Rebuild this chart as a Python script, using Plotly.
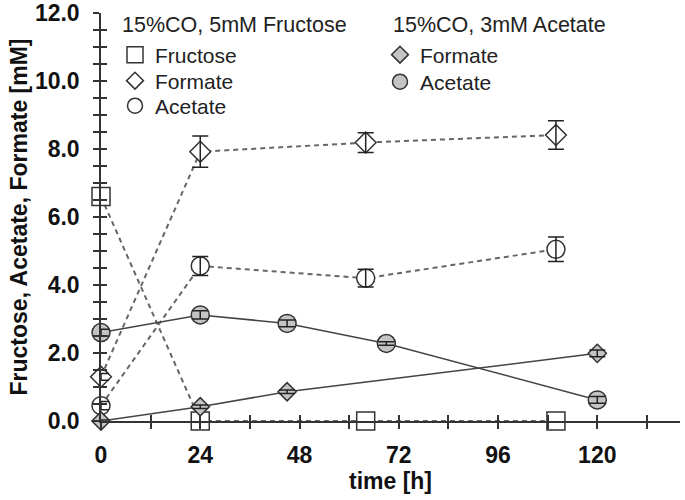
import plotly.graph_objects as go

# ---- data ----
t_fru = [0, 24, 64, 110]
fructose_fru = [6.6, 0.0, 0.0, 0.0]
formate_fru = [1.3, 7.92, 8.19, 8.41]
formate_fru_err = [0.1, 0.46, 0.29, 0.42]
acetate_fru = [0.45, 4.56, 4.20, 5.05]
acetate_fru_err = [0.12, 0.28, 0.26, 0.36]

t_ace_formate = [0, 24, 45, 120]
formate_ace = [0.0, 0.42, 0.86, 1.99]
formate_ace_err = [0.03, 0.05, 0.05, 0.1]
t_ace_acetate = [0, 24, 45, 69, 120]
acetate_ace = [2.60, 3.12, 2.87, 2.28, 0.62]
acetate_ace_err = [0.1, 0.12, 0.1, 0.05, 0.1]

legend1_title = "15%CO, 5mM Fructose"
legend2_title = "15%CO, 3mM Acetate"
x_ticks = [0, 24, 48, 72, 96, 120]
y_ticks = [0, 2, 4, 6, 8, 10, 12]

FONT = "Liberation Sans, Arial, sans-serif"
OUT = "#333333"
GRAY = "#c4c4c4"
DASH = "#666666"
SOLID = "#444444"

W, H = 685, 500
SL, SR, ST, SB = 101, 680, 13, 421          # plot area on screen
L, T = SL, ST
R, B = W - SR, H - SB
PW, PH = W - L - R, H - T - B


def px_x(p):
    return (p - L) / PW


def px_y(p):
    return (H - B - p) / PH


fig = go.Figure()


def add_series(x, y, err, symbol, size, fill, line_dash, line_color, line_w):
    fig.add_trace(go.Scatter(
        x=x, y=y, mode="lines+markers", showlegend=False, cliponaxis=False,
        line=dict(color=line_color, width=line_w, dash=line_dash),
        marker=dict(symbol=symbol, size=size, color=fill,
                    line=dict(color=OUT, width=1.5)),
        hoverinfo="skip"))
    if err is not None:
        fig.add_trace(go.Scatter(
            x=x, y=y, mode="markers", showlegend=False, cliponaxis=False,
            marker=dict(symbol=symbol, size=size, color="rgba(0,0,0,0)",
                        line=dict(color="rgba(0,0,0,0)", width=0)),
            error_y=dict(type="data", array=err, visible=True,
                         color="#222222", thickness=1.5, width=8),
            hoverinfo="skip"))


add_series(t_fru, fructose_fru, None, "square", 18, "white", "5px,4px", DASH, 2)
add_series(t_fru, formate_fru, formate_fru_err, "diamond", 16, "white", "5px,4px", DASH, 2)
add_series(t_fru, acetate_fru, acetate_fru_err, "circle", 18, "white", "5px,4px", DASH, 2)
add_series(t_ace_formate, formate_ace, formate_ace_err, "diamond", 14, GRAY, "solid", SOLID, 1.5)
add_series(t_ace_acetate, acetate_ace, acetate_ace_err, "circle", 18, GRAY, "solid", SOLID, 1.5)

# legend-only entries, each in its own legend box
legend_items = [
    ("Fructose", "square", 16, "white", "legend", 134, 55),
    ("Formate", "diamond", 13, "white", "legend2", 134, 81),
    ("Acetate", "circle", 15, "white", "legend3", 134, 106),
    ("Formate", "diamond", 13, GRAY, "legend4", 399, 55),
    ("Acetate", "circle", 15, GRAY, "legend5", 399, 82),
]
legend_layout = {}
for name, symbol, size, fill, lg, sx, sy in legend_items:
    fig.add_trace(go.Scatter(
        x=[None], y=[None], mode="markers", name=name, legend=lg,
        marker=dict(symbol=symbol, size=size, color=fill,
                    line=dict(color=OUT, width=1.5))))
    legend_layout[lg] = dict(x=px_x(sx - 19), y=px_y(sy), xanchor="left", yanchor="middle",
                             bgcolor="rgba(0,0,0,0)", itemwidth=30,
                             font=dict(family=FONT, size=21, color="#222"))

tickfont = dict(family=FONT, size=23, color="#111111", weight="bold")
TK = dict(ticklen=6, tickwidth=1.5, tickcolor="#333")

fig.update_layout(
    width=W, height=H,
    margin=dict(l=L, r=R, t=T, b=B),
    paper_bgcolor="white", plot_bgcolor="white",
    font=dict(family=FONT, color="#222222"),
    xaxis=dict(range=[0, 140], tickvals=x_ticks, ticktext=[str(v) for v in x_ticks],
               ticks="outside", **TK, automargin=False, ticklabeloverflow="allow",
               minor=dict(dtick=12, tick0=0, ticks="outside", **TK),
               showline=True, linecolor="#333", linewidth=1.5, showgrid=False, zeroline=False,
               tickfont=tickfont, ticklabelstandoff=7,
               title=dict(text="time [h]", font=dict(family=FONT, size=23, weight="bold", color="#111"), standoff=3)),
    yaxis=dict(range=[0, 12], tickvals=y_ticks, ticktext=[f"{v:.1f}" for v in y_ticks],
               ticks="outside", **TK, automargin=False, ticklabeloverflow="allow",
               minor=dict(dtick=0.5, tick0=0, ticks="outside", **TK),
               showline=True, linecolor="#333", linewidth=1.5, showgrid=False, zeroline=False,
               tickfont=tickfont, ticklabelstandoff=9,
               title=dict(text="Fructose, Acetate, Formate [mM]", font=dict(family=FONT, size=23, weight="bold", color="#111"), standoff=1)),
    xaxis2=dict(range=[0, 140], overlaying="x", anchor="y", tickvals=x_ticks, showticklabels=False,
                ticks="inside", **TK, automargin=False,
                minor=dict(dtick=12, tick0=0, ticks="inside", **TK),
                showline=False, showgrid=False, zeroline=False),
    yaxis2=dict(range=[0, 12], overlaying="y", anchor="x", tickvals=y_ticks, showticklabels=False,
                ticks="inside", **TK, automargin=False,
                minor=dict(dtick=0.5, tick0=0, ticks="inside", **TK),
                showline=False, showgrid=False, zeroline=False),
    annotations=[
        dict(text=legend1_title, xref="paper", yref="paper", x=px_x(120), y=px_y(25),
             xanchor="left", yanchor="middle", showarrow=False,
             font=dict(family=FONT, size=21.5, color="#222")),
        dict(text=legend2_title, xref="paper", yref="paper", x=px_x(391), y=px_y(25),
             xanchor="left", yanchor="middle", showarrow=False,
             font=dict(family=FONT, size=21.5, color="#222")),
    ],
    **legend_layout,
)

fig.add_trace(go.Scatter(x=[None], y=[None], xaxis="x2", yaxis="y2", showlegend=False, hoverinfo="skip"))

# remove the default 8px page margin so the figure sits at the window's top-left corner
fig.write_html("out.html", config={"displayModeBar": False},
               post_script="document.body.style.margin='0px';")
